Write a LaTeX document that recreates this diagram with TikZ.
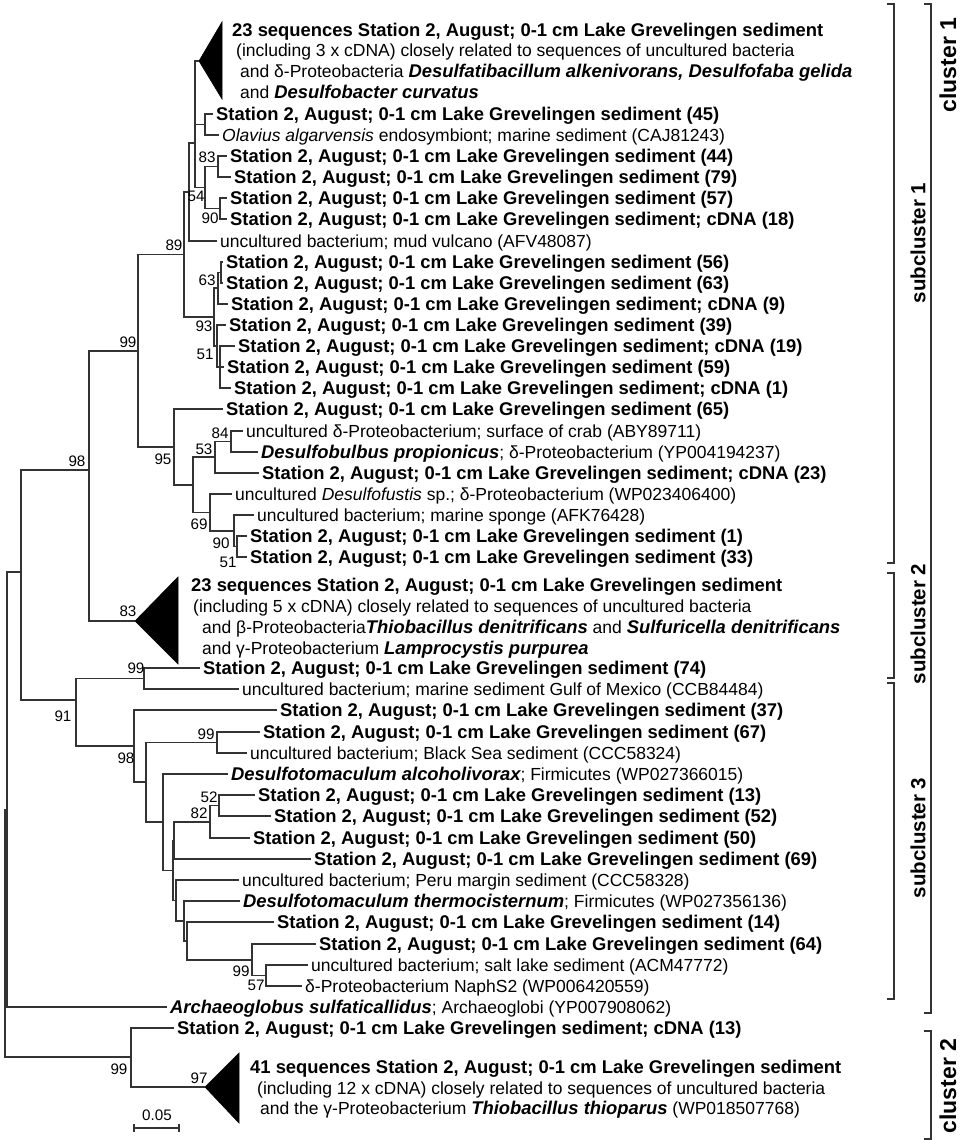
\documentclass[tikz,border=0pt]{standalone}
\usepackage{fontspec}
\setmainfont{Liberation Sans}
\newcommand\stn{Station 2, August; 0-1 cm Lake Grevelingen sediment}
\newcommand\mybf[1]{{\fontsize{18.4}{21}\selectfont\bfseries #1}}
\newcommand\mybi[1]{{\fontsize{18.4}{21}\selectfont\bfseries\itshape #1}}
\newcommand\clade[2]{\foreach \c in {#2}{\draw[br] (#1) -- (#1 |- \c) -- (\c);}}
\tikzset{
 br/.style={draw=black!80, line width=1.2pt},
 lf/.style={anchor=west, inner xsep=3pt, inner ysep=0pt, text height=13pt, text depth=0pt, font=\fontsize{17.5}{21}\selectfont},
 bs/.style={inner sep=0pt, font=\fontsize{15.2}{16}\selectfont},
 tri/.style={fill=black, draw=black, line width=0.6pt, line join=miter},
 brk/.style={draw=black!80, line width=1.2pt},
 scl/.style={rotate=90, inner sep=0pt, font=\fontsize{20.5}{22}\selectfont\bfseries},
 cll/.style={rotate=90, inner sep=0pt, font=\fontsize{23}{25}\selectfont\bfseries}
}
\begin{document}
\begin{tikzpicture}[x=1pt,y=-1pt]
\useasboundingbox (0,0) rectangle (960,1140);
% ---------- collapsed clade 1
\coordinate (t1) at (199,61);
\fill[tri] (t1) -- (222,22) -- (222,99) -- cycle;
\node[lf] (t1a) at (229,30) {\mybf{23 sequences \stn}};
\node[lf] (t1b) at (233,50) {(including 3 x cDNA) closely related to sequences of uncultured bacteria};
\node[lf] (t1c) at (237,71) {and δ-Proteobacteria \mybi{Desulfatibacillum alkenivorans, Desulfofaba gelida}};
\node[lf] (t1d) at (237,92) {and \mybi{Desulfobacter curvatus}};
% ---------- upper leaves
\node[lf] (L45) at (213,114) {\mybf{\stn{} (45)}};
\node[lf] (Lolav) at (219,135) {\textit{Olavius algarvensis} endosymbiont; marine sediment (CAJ81243)};
\node[lf] (L44) at (227,156) {\mybf{\stn{} (44)}};
\node[lf] (L79) at (231,177) {\mybf{\stn{} (79)}};
\node[lf] (L57) at (227,198) {\mybf{\stn{} (57)}};
\node[lf] (L18c) at (227,219) {\mybf{\stn; cDNA (18)}};
\node[lf] (Lmud) at (217,241) {uncultured bacterium; mud vulcano (AFV48087)};
\node[lf] (L56) at (223,262) {\mybf{\stn{} (56)}};
\node[lf] (L63) at (223,283) {\mybf{\stn{} (63)}};
\node[lf] (L9c) at (228,304) {\mybf{\stn; cDNA (9)}};
\node[lf] (L39) at (226,325) {\mybf{\stn{} (39)}};
\node[lf] (L19c) at (235,346) {\mybf{\stn; cDNA (19)}};
\node[lf] (L59) at (224,367) {\mybf{\stn{} (59)}};
\node[lf] (L1c) at (231,388) {\mybf{\stn; cDNA (1)}};
\node[lf] (L65) at (223,409) {\mybf{\stn{} (65)}};
\node[lf] (Lcrab) at (243,431) {uncultured δ-Proteobacterium; surface of crab (ABY89711)};
\node[lf] (Ldbulb) at (258,452) {\mybi{Desulfobulbus propionicus}; δ-Proteobacterium (YP004194237)};
\node[lf] (L23c) at (259,473) {\mybf{\stn; cDNA (23)}};
\node[lf] (Ldfust) at (232,494) {uncultured \textit{Desulfofustis} sp.; δ-Proteobacterium (WP023406400)};
\node[lf] (Lsponge) at (254,515) {uncultured bacterium; marine sponge (AFK76428)};
\node[lf] (L1) at (247,536) {\mybf{\stn{} (1)}};
\node[lf] (L33) at (247,557) {\mybf{\stn{} (33)}};
% ---------- collapsed clade 2
\coordinate (t2) at (135,621);
\fill[tri] (t2) -- (178,577) -- (178,664) -- cycle;
\node[lf] (t2a) at (188,585) {\mybf{23 sequences \stn}};
\node[lf] (t2b) at (190,606) {(including 5 x cDNA) closely related to sequences of uncultured bacteria};
\node[lf] (t2c) at (199,627) {and β-Proteobacteria\mybi{Thiobacillus denitrificans} and \mybi{Sulfuricella denitrificans}};
\node[lf] (t2d) at (199,648) {and γ-Proteobacterium \mybi{Lamprocystis purpurea}};
% ---------- lower leaves
\node[lf] (L74) at (200,668) {\mybf{\stn{} (74)}};
\node[lf] (Lgom) at (239,689) {uncultured bacterium; marine sediment Gulf of Mexico (CCB84484)};
\node[lf] (L37) at (277,710) {\mybf{\stn{} (37)}};
\node[lf] (L67) at (260,732) {\mybf{\stn{} (67)}};
\node[lf] (Lbsea) at (247,753) {uncultured bacterium; Black Sea sediment (CCC58324)};
\node[lf] (Lalc) at (228,774) {\mybi{Desulfotomaculum alcoholivorax}; Firmicutes (WP027366015)};
\node[lf] (L13) at (255,795) {\mybf{\stn{} (13)}};
\node[lf] (L52) at (271,816) {\mybf{\stn{} (52)}};
\node[lf] (L50) at (250,838) {\mybf{\stn{} (50)}};
\node[lf] (L69) at (311,859) {\mybf{\stn{} (69)}};
\node[lf] (Lperu) at (239,880) {uncultured bacterium; Peru margin sediment (CCC58328)};
\node[lf] (Lthermo) at (240,901) {\mybi{Desulfotomaculum thermocisternum}; Firmicutes (WP027356136)};
\node[lf] (L14) at (274,922) {\mybf{\stn{} (14)}};
\node[lf] (L64) at (316,944) {\mybf{\stn{} (64)}};
\node[lf] (Lsalt) at (308,965) {uncultured bacterium; salt lake sediment (ACM47772)};
\node[lf] (Lnaph) at (302,986) {δ-Proteobacterium NaphS2 (WP006420559)};
\node[lf] (Larch) at (167,1007) {\mybi{Archaeoglobus sulfaticallidus}; Archaeoglobi (YP007908062)};
\node[lf] (Lc13) at (174,1028) {\mybf{\stn; cDNA (13)}};
% ---------- collapsed clade 3
\coordinate (t3) at (205,1087);
\fill[tri] (t3) -- (239,1053) -- (239,1123) -- cycle;
\node[lf] (t3a) at (247,1067) {\mybf{41 sequences \stn}};
\node[lf] (t3b) at (254,1088) {(including 12 x cDNA) closely related to sequences of uncultured bacteria};
\node[lf] (t3c) at (257,1108) {and the γ-Proteobacterium \mybi{Thiobacillus thioparus} (WP018507768)};
% ---------- internal nodes
\coordinate (nE) at (205,124.5);
\coordinate (n83) at (218,166.5);
\coordinate (n90a) at (220,208.5);
\coordinate (n54) at (205,187.5);
\coordinate (nD) at (195,143);
\coordinate (nB) at (189,192);
\coordinate (nA) at (221,272.5);
\coordinate (n63) at (218,288);
\coordinate (nb) at (220,367);
\coordinate (n51a) at (217,346);
\coordinate (n93) at (214,317);
\coordinate (n89) at (184,254.5);
\coordinate (n84) at (231,441.5);
\coordinate (n53) at (215,457);
\coordinate (n51b) at (237,546.5);
\coordinate (n90b) at (234,531);
\coordinate (n69) at (210,512.5);
\coordinate (nQ) at (193,485);
\coordinate (n95) at (174,447);
\coordinate (n99a) at (138,351);
\coordinate (n98a) at (89,470);
\coordinate (n99b) at (144,678.5);
\coordinate (n99c) at (217,742.5);
\coordinate (n52) at (219,805.5);
\coordinate (n82) at (210,822);
\coordinate (nU) at (174,840.5);
\coordinate (n57) at (266,975.5);
\coordinate (n99d) at (252,960);
\coordinate (nP) at (187,941);
\coordinate (nT) at (184,921);
\coordinate (nS) at (176,900.5);
\coordinate (nV) at (173,870.5);
\coordinate (nW) at (163,822);
\coordinate (nZ) at (146,782);
\coordinate (n98b) at (134,746);
\coordinate (n91) at (76,700);
\coordinate (nX) at (21,572);
\coordinate (nR) at (7,810);
\coordinate (n99e) at (131,1057);
\coordinate (root) at (5,933);
% ---------- branches
\clade{nE}{L45,Lolav}
\clade{n83}{L44,L79}
\clade{n90a}{L57,L18c}
\clade{n54}{n83,n90a}
\clade{nD}{t1,nE,n54}
\clade{nB}{nD,Lmud}
\clade{nA}{L56,L63}
\clade{n63}{nA,L9c}
\clade{nb}{L19c,L59,L1c}
\clade{n51a}{L39,nb}
\clade{n93}{n63,n51a}
\clade{n89}{nB,n93}
\clade{n84}{Lcrab,Ldbulb}
\clade{n53}{n84,L23c}
\clade{n51b}{L1,L33}
\clade{n90b}{Lsponge,n51b}
\clade{n69}{Ldfust,n90b}
\clade{nQ}{n53,n69}
\clade{n95}{L65,nQ}
\clade{n99a}{n89,n95}
\clade{n98a}{n99a,t2}
\clade{n99b}{L74,Lgom}
\clade{n99c}{L67,Lbsea}
\clade{n52}{L13,L52}
\clade{n82}{n52,L50}
\clade{nU}{n82,L69}
\clade{n57}{Lsalt,Lnaph}
\clade{n99d}{L64,n57}
\clade{nP}{L14,n99d}
\clade{nT}{Lthermo,nP}
\clade{nS}{Lperu,nT}
\clade{nV}{nU,nS}
\clade{nW}{Lalc,nV}
\clade{nZ}{n99c,nW}
\clade{n98b}{L37,nZ}
\clade{n91}{n99b,n98b}
\clade{nX}{n98a,n91}
\clade{nR}{nX,Larch}
\clade{n99e}{Lc13,t3}
\clade{root}{nR,n99e}
% ---------- support values
\node[bs] (s1) at (207,157) {83};
\node[bs] (s2) at (196,196) {54};
\node[bs] (s3) at (210,218) {90};
\node[bs] (s4) at (174,245) {89};
\node[bs] (s5) at (207,280) {63};
\node[bs] (s6) at (204,326) {93};
\node[bs] (s7) at (205,354) {51};
\node[bs] (s8) at (128,342) {99};
\node[bs] (s9) at (77,461) {98};
\node[bs] (s10) at (163,459) {95};
\node[bs] (s11) at (220,433) {84};
\node[bs] (s12) at (204,449) {53};
\node[bs] (s13) at (199,524) {69};
\node[bs] (s14) at (221,543) {90};
\node[bs] (s15) at (228,562) {51};
\node[bs] (s16) at (128,611) {83};
\node[bs] (s17) at (136,668) {99};
\node[bs] (s18) at (63,716) {91};
\node[bs] (s19) at (206,734) {99};
\node[bs] (s20) at (126,758) {98};
\node[bs] (s21) at (209,797) {52};
\node[bs] (s22) at (199,813) {82};
\node[bs] (s23) at (241,971) {99};
\node[bs] (s24) at (256,985) {57};
\node[bs] (s25) at (119,1069) {99};
\node[bs] (s26) at (199,1078) {97};
% ---------- scale bar
\coordinate (sb1) at (134,1128);
\coordinate (sb2) at (179,1128);
\draw[br] (sb1) -- (sb2);
\draw[br] ([yshift=4pt]sb1) -- ([yshift=-4pt]sb1);
\draw[br] ([yshift=4pt]sb2) -- ([yshift=-4pt]sb2);
\node[bs] (sbl) at (157,1115) {0.05};
% ---------- cluster brackets
\draw[brk] (887,4) -- (894,4) -- (894,563) -- (887,563);
\node[scl] (sc1) at (918,243) {subcluster 1};
\draw[brk] (887,573) -- (894,573) -- (894,678) -- (887,678);
\node[scl] (sc2) at (918,624) {subcluster 2};
\draw[brk] (887,683) -- (894,683) -- (894,999) -- (887,999);
\node[scl] (sc3) at (918,838) {subcluster 3};
\draw[brk] (924,4) -- (931,4) -- (931,1013) -- (924,1013);
\node[cll] (c1) at (948,65) {cluster 1};
\draw[brk] (924,1031) -- (931,1031) -- (931,1139) -- (924,1139);
\node[cll] (c2) at (948,1086) {cluster 2};
\end{tikzpicture}
\end{document}
